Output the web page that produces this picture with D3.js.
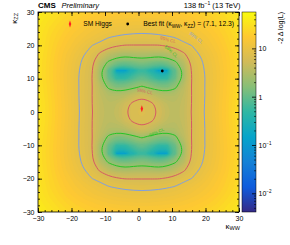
<!DOCTYPE html>
<html lang="en">
<head>
<meta charset="UTF-8">
<title>kappa_WW vs kappa_ZZ likelihood scan</title>
<script src="https://d3js.org/d3.v7.min.js"></script>
<style>
  body { margin: 0; background: #fff; }
  svg text { font-family: "Liberation Sans", Arial, Helvetica, sans-serif; }
</style>
</head>
<body>
<svg id="chart" width="290" height="245"></svg>
<script>
// -2 Delta log(L) for one quadrant around the centre of the scan
// (kWW = 1, kZZ = 0); the scan is mirrored in both directions.
// rows: |kZZ| = 0, 2.5, ..., 30   columns: |kWW - 1| = 0, 2.5, ..., 32.5
const quadrant = [
  [7.5, 6.7, 5.8, 4.4, 3.8, 4.5, 6.2, 8.2, 10.5, 14.0, 18.0, 24.0, 31.0, 38.0],
  [6.8, 6.5, 5.3, 4.1, 3.7, 4.4, 6.1, 8.1, 10.4, 13.8, 18.0, 24.0, 31.0, 38.0],
  [5.6, 4.5, 3.5, 3.2, 3.3, 4.2, 6.1, 8.0, 10.3, 13.6, 17.5, 23.0, 30.0, 37.0],
  [2.5, 1.9, 1.5, 1.4, 2.0, 3.8, 6.2, 8.1, 10.3, 13.5, 17.5, 23.0, 29.0, 36.0],
  [1.1, 0.8, 0.5, 0.5, 1.1, 2.7, 6.1, 8.0, 10.2, 13.3, 17.0, 22.0, 28.0, 35.0],
  [0.6, 0.35, 0.12, 0.12, 0.9, 2.6, 6.3, 8.2, 10.4, 13.4, 17.0, 22.0, 28.0, 34.0],
  [1.6, 1.4, 1.2, 1.4, 2.1, 3.6, 6.6, 8.6, 10.8, 13.8, 17.5, 22.5, 28.0, 35.0],
  [3.2, 3.1, 2.9, 3.2, 4.0, 5.6, 7.8, 9.6, 11.8, 14.6, 18.0, 23.0, 29.0, 35.0],
  [5.9, 5.9, 5.9, 6.3, 7.0, 8.3, 9.3, 11.0, 13.5, 16.0, 19.5, 24.0, 30.0, 36.0],
  [8.2, 8.3, 8.5, 8.9, 9.4, 10.5, 11.8, 13.3, 15.0, 17.5, 21.0, 25.0, 31.0, 37.0],
  [10.5, 10.6, 10.8, 11.2, 11.8, 12.7, 13.8, 15.2, 17.0, 19.5, 23.0, 27.0, 32.0, 38.0],
  [13.5, 13.6, 13.8, 14.2, 14.8, 15.6, 16.8, 18.3, 20.0, 22.5, 26.0, 30.0, 35.0, 41.0],
  [17.0, 17.1, 17.3, 17.7, 18.3, 19.0, 20.0, 21.5, 23.5, 26.0, 29.5, 34.0, 40.0, 46.0]
];
const gridStep = 2.5;
const centreWW = 1;
const centreZZ = 0;

const clLevels = [2.30, 5.99, 9.21];
const clNames = ["68% CL", "95% CL", "99% CL"];
const smHiggs = [1, 1];
const bestFit = [7.1, 12.3];
const zRange = [0.0042, 58];
const axisTicks = d3.range(-30, 31, 10);
const zTicks = [0.01, 0.1, 1, 10];
const zTickLabels = [["10", "\u22122"], ["10", "\u22121"], ["1", ""], ["10", ""]];

// kBird palette
const birdColors = ["#352a87", "#0f5cdd", "#1481d6", "#06a4ca", "#2eb7a4",
                    "#87bf77", "#d1bb59", "#fec832", "#f9fb0e"];
const clColors = ["#25c425", "#d65a64", "#7f9fe0"];

const svg = d3.select("#chart");
const plot = { left: 38, right: 239, top: 12, bottom: 212 };
const fontSans = '"Liberation Sans", Arial, sans-serif';

const x = d3.scaleLinear().domain([-30, 30]).range([plot.left, plot.right]);
const y = d3.scaleLinear().domain([-30, 30]).range([plot.bottom, plot.top]);
const zPos = d3.scaleLog().domain(zRange).range([0, 1]).clamp(true);
const pal = d3.scaleLinear().domain(d3.range(9).map(i => i / 8)).range(birdColors);
const color = v => pal(zPos(v));

// full grid, top row first
const nx = 26, ny = 25;
const grid = [];
for (let j = 0; j < ny; j++) {
  for (let i = 0; i < nx; i++) {
    grid.push(quadrant[Math.abs(12 - j)][Math.abs(i - 13)]);
  }
}
const gx = d3.scaleLinear().domain([0.5, nx - 0.5])
  .range([x(centreWW - 13 * gridStep), x(centreWW + 12 * gridStep)]);
const gy = d3.scaleLinear().domain([0.5, ny - 0.5])
  .range([y(centreZZ + 12 * gridStep), y(centreZZ - 12 * gridStep)]);

const ring = d3.line().x(p => gx(p[0])).y(p => gy(p[1]))
  .curve(d3.curveBasisClosed);
const toPath = g => g.coordinates
  .map(poly => poly.map(r => ring(r.slice(0, -1))).join("")).join("");

svg.append("clipPath").attr("id", "plotClip")
  .append("rect")
  .attr("x", plot.left).attr("y", plot.top)
  .attr("width", plot.right - plot.left).attr("height", plot.bottom - plot.top);

const area = svg.append("g").attr("clip-path", "url(#plotClip)");

// colour map as stacked filled levels
const nLevels = 90;
const ratio = Math.pow(zRange[1] / zRange[0], 1 / nLevels);
const levels = d3.range(nLevels).map(i => zRange[0] * Math.pow(ratio, i));
const bands = d3.contours().size([nx, ny]).thresholds(levels)(grid);

area.append("rect")
  .attr("x", plot.left).attr("y", plot.top)
  .attr("width", plot.right - plot.left).attr("height", plot.bottom - plot.top)
  .attr("fill", color(zRange[1]));

area.selectAll("path.band")
  .data(bands)
  .join("path")
  .attr("class", "band")
  .attr("d", toPath)
  .attr("fill", d => color(d.value * Math.sqrt(ratio)));

// confidence contours
const clContours = d3.contours().size([nx, ny]).thresholds(clLevels)(grid);
area.selectAll("path.cl")
  .data(clContours)
  .join("path")
  .attr("class", "cl")
  .attr("d", toPath)
  .attr("fill", "none")
  .attr("stroke", (d, i) => clColors[i])
  .attr("stroke-width", 1);

// contour labels
const clLabelSpots = [
  { lvl: 2, at: [17.2, 22.3], rot: 38 },
  { lvl: 1, at: [8.8, 21.7], rot: 15 },
  { lvl: 0, at: [9.8, 18.2], rot: 42 },
  { lvl: 1, at: [1.9, 6.2], rot: 12 },
  { lvl: 0, at: [5.4, -6.1], rot: -24 }
];
area.selectAll("text.cllab")
  .data(clLabelSpots)
  .join("text")
  .attr("class", "cllab")
  .attr("transform", d => `translate(${x(d.at[0])},${y(d.at[1])}) rotate(${d.rot})`)
  .attr("text-anchor", "middle")
  .attr("dy", "0.35em")
  .attr("font-size", 4.5)
  .attr("fill", d => clColors[d.lvl])
  .attr("opacity", 0.85)
  .text(d => clNames[d.lvl]);

// SM point and best fit
const diamond = d3.symbol().type(d3.symbolDiamond).size(14);
area.append("path")
  .attr("d", diamond())
  .attr("transform", `translate(${x(smHiggs[0])},${y(smHiggs[1])}) scale(0.62,1)`)
  .attr("fill", "#ff2020");
area.append("circle")
  .attr("cx", x(bestFit[0])).attr("cy", y(bestFit[1]))
  .attr("r", 1.4).attr("fill", "#000");

// axes, ROOT style ticks inside on all sides
function styleAxis(g) {
  g.select(".domain").remove();
  g.selectAll("line").attr("stroke", "#000").attr("stroke-width", 0.8);
  g.selectAll("text").attr("font-size", 7).attr("font-family", fontSans).attr("fill", "#000");
}
const minor = d3.range(-30, 31, 2);
svg.append("g").attr("transform", `translate(0,${plot.bottom})`)
  .call(d3.axisBottom(x).tickValues(minor).tickSize(-2).tickFormat("")).call(styleAxis);
svg.append("g").attr("transform", `translate(0,${plot.bottom})`)
  .call(d3.axisBottom(x).tickValues(axisTicks).tickSize(-4).tickPadding(4.5)).call(styleAxis);
svg.append("g").attr("transform", `translate(0,${plot.top})`)
  .call(d3.axisTop(x).tickValues(minor).tickSize(-2).tickFormat("")).call(styleAxis);
svg.append("g").attr("transform", `translate(0,${plot.top})`)
  .call(d3.axisTop(x).tickValues(axisTicks).tickSize(-4).tickFormat("")).call(styleAxis);
svg.append("g").attr("transform", `translate(${plot.left},0)`)
  .call(d3.axisLeft(y).tickValues(minor).tickSize(-2).tickFormat("")).call(styleAxis);
svg.append("g").attr("transform", `translate(${plot.left},0)`)
  .call(d3.axisLeft(y).tickValues(axisTicks).tickSize(-4).tickPadding(3.5)).call(styleAxis);
svg.append("g").attr("transform", `translate(${plot.right},0)`)
  .call(d3.axisRight(y).tickValues(minor).tickSize(-2).tickFormat("")).call(styleAxis);
svg.append("g").attr("transform", `translate(${plot.right},0)`)
  .call(d3.axisRight(y).tickValues(axisTicks).tickSize(-4).tickFormat("")).call(styleAxis);

svg.append("rect")
  .attr("x", plot.left).attr("y", plot.top)
  .attr("width", plot.right - plot.left).attr("height", plot.bottom - plot.top)
  .attr("fill", "none").attr("stroke", "#000").attr("stroke-width", 0.8);

// colour bar
const bar = { left: 242, right: 256 };
const zy = d3.scaleLog().domain(zRange).range([plot.bottom, plot.top]);
const grad = svg.append("defs").append("linearGradient")
  .attr("id", "birdGrad").attr("x1", 0).attr("y1", 1).attr("x2", 0).attr("y2", 0);
grad.selectAll("stop").data(birdColors).join("stop")
  .attr("offset", (d, i) => i / 8).attr("stop-color", d => d);
svg.append("rect")
  .attr("x", bar.left).attr("y", plot.top)
  .attr("width", bar.right - bar.left).attr("height", plot.bottom - plot.top)
  .attr("fill", "url(#birdGrad)")
  .attr("stroke", "#000").attr("stroke-width", 0.5);

const zMinor = [];
[0.001, 0.01, 0.1, 1, 10].forEach(dec => d3.range(2, 10).forEach(m => {
  const v = dec * m;
  if (v > zRange[0] && v < zRange[1]) zMinor.push(v);
}));
svg.append("g").selectAll("line").data(zMinor).join("line")
  .attr("x1", bar.right).attr("x2", bar.right - 2)
  .attr("y1", d => zy(d)).attr("y2", d => zy(d))
  .attr("stroke", "#000").attr("stroke-width", 0.6);
svg.append("g").selectAll("line").data(zTicks).join("line")
  .attr("x1", bar.right).attr("x2", bar.right - 4)
  .attr("y1", d => zy(d)).attr("y2", d => zy(d))
  .attr("stroke", "#000").attr("stroke-width", 0.8);
const zLab = svg.append("g").selectAll("text").data(zTicks).join("text")
  .attr("x", bar.right + 2.5).attr("y", d => zy(d)).attr("dy", "0.35em")
  .attr("font-size", 7).attr("font-family", fontSans);
zLab.append("tspan").text((d, i) => zTickLabels[i][0]);
zLab.append("tspan").attr("font-size", 4.5).attr("dy", -3).text((d, i) => zTickLabels[i][1]);

// titles
svg.append("text")
  .attr("transform", `translate(283,${plot.top}) rotate(-90)`)
  .attr("text-anchor", "end").attr("font-size", 7)
  .text("-2 \u0394 log(L)");

const yTitle = svg.append("text")
  .attr("transform", `translate(16.5,${plot.top + 1}) rotate(-90)`)
  .attr("text-anchor", "end").attr("font-size", 8);
yTitle.append("tspan").text("\u03ba");
yTitle.append("tspan").attr("font-size", 5.5).attr("dy", 1.8).text("ZZ");

const xTitle = svg.append("text")
  .attr("x", plot.right + 1).attr("y", 228.5)
  .attr("text-anchor", "end").attr("font-size", 8);
xTitle.append("tspan").text("\u03ba");
xTitle.append("tspan").attr("font-size", 5.5).attr("dy", 1.8).text("WW");

svg.append("text").attr("x", 38).attr("y", 8.3)
  .attr("font-size", 8).attr("font-weight", "bold").text("CMS");
svg.append("text").attr("x", 61.5).attr("y", 8.3)
  .attr("font-size", 7.5).attr("font-style", "italic").text("Preliminary");
const lumi = svg.append("text").attr("x", 240.5).attr("y", 8.3)
  .attr("text-anchor", "end").attr("font-size", 7.5);
lumi.append("tspan").text("138 fb");
lumi.append("tspan").attr("font-size", 5).attr("dy", -3).text("\u22121");
lumi.append("tspan").attr("dy", 3).text(" (13 TeV)");

// legend
svg.append("path")
  .attr("d", diamond())
  .attr("transform", "translate(70,24) scale(0.62,1)")
  .attr("fill", "#ff2020");
svg.append("text").attr("x", 83.3).attr("y", 26.4).attr("font-size", 6.6).text("SM Higgs");
svg.append("circle").attr("cx", 127.7).attr("cy", 24).attr("r", 1.4).attr("fill", "#000");
const bf = svg.append("text").attr("x", 143.3).attr("y", 26.4).attr("font-size", 6.8);
bf.append("tspan").text("Best fit (\u03ba");
bf.append("tspan").attr("font-size", 4.6).attr("dy", 1.3).text("WW");
bf.append("tspan").attr("dy", -1.3).text(", \u03ba");
bf.append("tspan").attr("font-size", 4.6).attr("dy", 1.3).text("ZZ");
bf.append("tspan").attr("dy", -1.3).text(`) = (${bestFit[0]}, ${bestFit[1]})`);
</script>
</body>
</html>
